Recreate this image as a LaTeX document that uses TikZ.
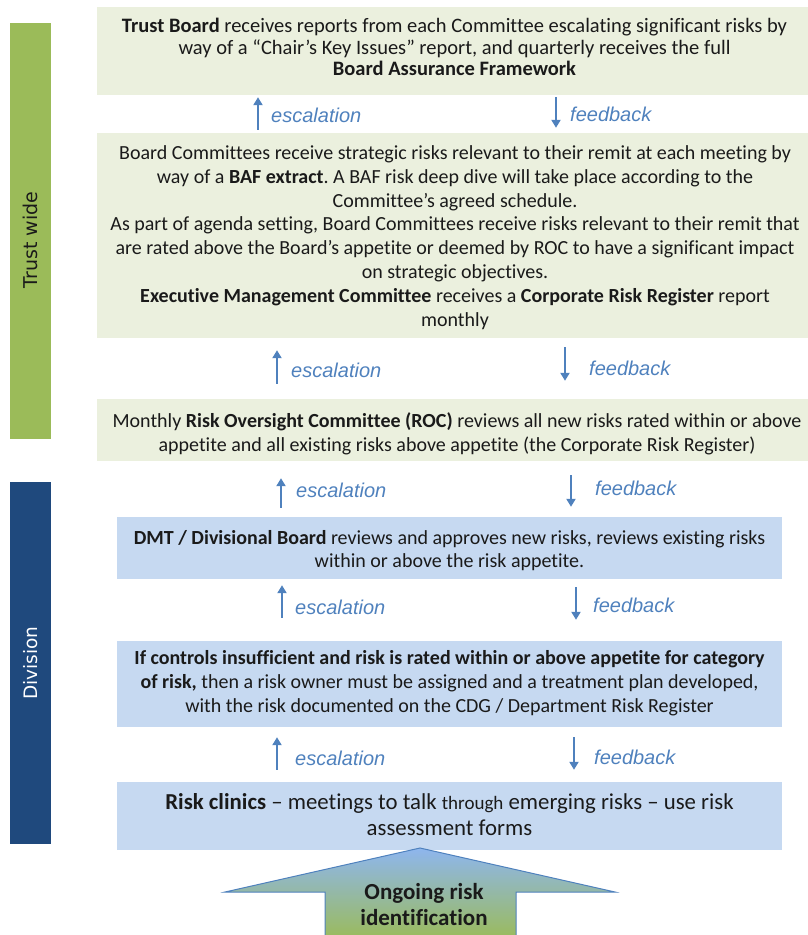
\documentclass[tikz,border=0pt]{standalone}
\usepackage{fontspec}
\setmainfont{Carlito}[Ligatures=NoCommon]
\newfontfamily\lblfont{Liberation Sans}
\newfontfamily\barfont{DejaVu Sans}
\usetikzlibrary{arrows.meta,calc}
\frenchspacing
\definecolor{palegreen}{HTML}{EBF0DE}
\definecolor{paleblue}{HTML}{C6D9F1}
\definecolor{trustgreen}{HTML}{9BBB59}
\definecolor{divblue}{HTML}{1F497D}
\definecolor{flowblue}{HTML}{4F81BD}
\definecolor{lblblue}{HTML}{4F81BD}
\definecolor{bodytext}{HTML}{1A1A1A}
\definecolor{arrowtop}{HTML}{8EB6EE}
\definecolor{arrowbot}{HTML}{9BBB59}
\tikzset{
  panel/.style={inner sep=0pt, text=bodytext, align=center},
  greenpanel/.style={panel, fill=palegreen},
  bluepanel/.style={panel, fill=paleblue},
  bodyfont/.style={font=\fontsize{20}{23.8}\selectfont},
  sidebar/.style={inner sep=0pt, minimum width=41pt},
  uparrow/.style={draw=flowblue, line width=2.8pt, -{Triangle[length=8pt,width=9pt]}},
  downarrow/.style={draw=flowblue, line width=2.8pt, -{Triangle[length=8pt,width=9pt]}},
  flowlabel/.style={anchor=west, inner sep=0pt, text=lblblue, font=\lblfont\itshape\fontsize{20}{22}\selectfont}
}
\begin{document}
\begin{tikzpicture}[x=1pt,y=-1pt]
\useasboundingbox (0,0) rectangle (808,935);

% side bars
\node[sidebar, fill=trustgreen, minimum height=416pt] (trust) at (30.5,231) {};
\node[rotate=90, text=bodytext, font=\barfont\fontsize{19}{21}\selectfont] (trustlbl) at (30.5,240) {Trust wide};
\node[sidebar, fill=divblue, minimum height=362pt] (div) at (30.5,663) {};
\node[rotate=90, text=white, font=\barfont\fontsize{18.5}{21}\selectfont] (divlbl) at (30.5,663) {Division};

% panels
\node[greenpanel, minimum width=711pt, minimum height=88pt] (b1) at (452.5,51) {};
\node[panel, font=\fontsize{20.5}{21.5}\selectfont] (t1) at (454.5,47) {\textbf{Trust Board} receives reports from each Committee escalating significant risks by\\ way of a “Chair’s Key Issues” report, and quarterly receives the full\\ \textbf{Board Assurance Framework}};

\node[greenpanel, minimum width=711pt, minimum height=205pt] (b2) at (452.5,235.5) {};
\node[panel, bodyfont] (t2) at (455,237.5) {Board Committees receive strategic risks relevant to their remit at each meeting by\\
way of a \textbf{BAF extract}. A BAF risk deep dive will take place according to the\\
Committee’s agreed schedule.\\
As part of agenda setting, Board Committees receive risks relevant to their remit that\\
are rated above the Board’s appetite or deemed by ROC to have a significant impact\\
on strategic objectives.\\
\textbf{Executive Management Committee} receives a \textbf{Corporate Risk Register} report\\
monthly};

\node[greenpanel, minimum width=711pt, minimum height=62pt] (b3) at (452.5,430) {};
\node[panel, bodyfont] (t3) at (457,434) {Monthly \textbf{Risk Oversight Committee (ROC)} reviews all new risks rated within or above\\
appetite and all existing risks above appetite (the Corporate Risk Register)};

\node[bluepanel, minimum width=665pt, minimum height=62pt] (b4) at (449.5,548) {};
\node[panel, bodyfont] (t4) at (449.5,550.5) {\textbf{DMT / Divisional Board} reviews and approves new risks, reviews existing risks\\ within or above the risk appetite.};

\node[bluepanel, minimum width=665pt, minimum height=86pt] (b5) at (449.5,684) {};
\node[panel, bodyfont] (t5) at (449.5,683) {\textbf{If controls insufficient and risk is rated within or above appetite for category}\\
\textbf{of risk,} then a risk owner must be assigned and a treatment plan developed,\\
with the risk documented on the CDG / Department Risk Register};

\node[bluepanel, minimum width=665pt, minimum height=68pt] (b6) at (449.5,816) {};
\node[panel, font=\fontsize{22.8}{26}\selectfont] (t6) at (449.5,815) {\textbf{Risk clinics} – meetings to talk {\fontsize{19}{26}\selectfont through} emerging risks – use risk\\ assessment forms};

% columns for the escalation / feedback arrows
\coordinate (e1) at (258,0);  \coordinate (f1) at (556,0);
\coordinate (e2) at (277,0);  \coordinate (f2) at (565,0);
\coordinate (e3) at (281,0);  \coordinate (f3) at (571,0);
\coordinate (e4) at (282,0);  \coordinate (f4) at (576,0);
\coordinate (e5) at (277,0);  \coordinate (f5) at (574,0);

% between b1 and b2
\draw[uparrow, shorten <=3pt, shorten >=2pt] (b2.north -| e1) -- (b1.south -| e1);
\draw[downarrow, shorten <=2pt, shorten >=5pt] (b1.south -| f1) -- (b2.north -| f1);
\node[flowlabel] (l1e) at (271,115) {escalation};
\node[flowlabel] (l1f) at (570,114) {feedback};

% between b2 and b3
\draw[uparrow, shorten <=15pt, shorten >=12pt] (b3.north -| e2) -- (b2.south -| e2);
\draw[downarrow, shorten <=9pt, shorten >=18pt] (b2.south -| f2) -- (b3.north -| f2);
\node[flowlabel] (l2e) at (291,370) {escalation};
\node[flowlabel] (l2f) at (589,368) {feedback};

% between b3 and b4
\draw[uparrow, shorten <=9pt, shorten >=17pt] (b4.north -| e3) -- (b3.south -| e3);
\draw[downarrow, shorten <=14pt, shorten >=10pt] (b3.south -| f3) -- (b4.north -| f3);
\node[flowlabel] (l3e) at (296,490) {escalation};
\node[flowlabel] (l3f) at (595,488) {feedback};

% between b4 and b5
\draw[uparrow, shorten <=23pt, shorten >=6pt] (b5.north -| e4) -- (b4.south -| e4);
\draw[downarrow, shorten <=8pt, shorten >=21pt] (b4.south -| f4) -- (b5.north -| f4);
\node[flowlabel] (l4e) at (295,607) {escalation};
\node[flowlabel] (l4f) at (593,605) {feedback};

% between b5 and b6
\draw[uparrow, shorten <=12pt, shorten >=10pt] (b6.north -| e5) -- (b5.south -| e5);
\draw[downarrow, shorten <=10pt, shorten >=12pt] (b5.south -| f5) -- (b6.north -| f5);
\node[flowlabel] (l5e) at (295,758) {escalation};
\node[flowlabel] (l5f) at (594,757) {feedback};

% block arrow feeding the risk clinics
\shade[top color=arrowtop, bottom color=arrowbot, draw=flowblue, line width=1pt]
  (420,848) -- (615,892) -- (516,892) -- (516,940) -- (325,940) -- (325,892) -- (225,892) -- cycle;
\node[panel, font=\fontsize{23}{26}\selectfont\bfseries] (ongoing) at (424,905) {Ongoing risk\\ identification};
\end{tikzpicture}
\end{document}
